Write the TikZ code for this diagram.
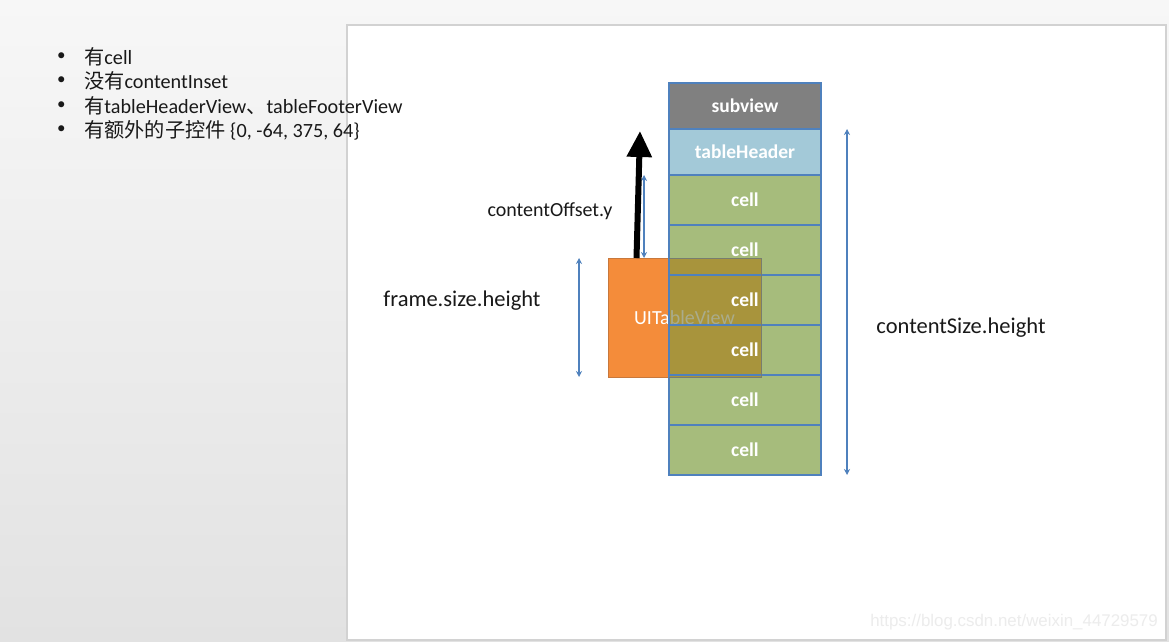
\documentclass[tikz,border=0pt]{standalone}
\usepackage{fontspec}
\setmainfont{Carlito}
\newfontfamily\cjk{Noto Sans CJK SC}
\newfontfamily\wmfont{Liberation Sans}
\usetikzlibrary{arrows.meta}
\definecolor{bgtop}{RGB}{247,247,247}
\definecolor{bgbot}{RGB}{226,226,226}
\definecolor{panelline}{RGB}{210,210,210}
\definecolor{boxline}{RGB}{79,129,189}
\definecolor{subgray}{RGB}{128,128,128}
\definecolor{headblue}{RGB}{163,201,216}
\definecolor{cellgreen}{RGB}{166,188,124}
\definecolor{tvorange}{RGB}{244,140,58}
\definecolor{tvline}{RGB}{200,120,60}
\definecolor{mixolive}{RGB}{168,148,60}
\definecolor{mixline}{RGB}{120,125,110}
\definecolor{faint}{RGB}{170,172,140}
\definecolor{txt}{RGB}{25,25,25}
\definecolor{wm}{RGB}{236,236,236}
\tikzset{
  stackbox/.style={draw=boxline, line width=1.5pt, minimum width=152pt, inner sep=0pt, outer sep=0pt,
    text=white, font=\fontsize{19.5}{22}\selectfont\bfseries},
  cellbox/.style={stackbox, minimum height=50pt},
  hdrbox/.style={stackbox, minimum height=46pt},
  lbl/.style={text=txt, inner sep=0pt, font=\fontsize{22.5}{26}\selectfont},
  bul/.style={text=txt, inner sep=0pt, anchor=west, font=\fontsize{20.2}{24}\selectfont},
  dim/.style={draw=boxline, line width=1.6pt, {Stealth[length=6pt,width=6pt]}-{Stealth[length=6pt,width=6pt]}},
}
\begin{document}
\begin{tikzpicture}[x=1pt,y=-1pt]
\useasboundingbox (0,0) rectangle (1169,642);
% background
\shade[top color=bgtop, bottom color=bgbot] (0,0) rectangle (1169,642);
\fill[white] (347,25) rectangle (1166,640);
\draw[panelline, line width=1.5pt] (347,25) rectangle (1166,640);
% bullet list
\foreach \y/\n in {57/1,81/2,106/3,130/4}{\node[bul, font=\fontsize{17}{20}\selectfont] (d\n) at (57,\y) {•};}
\node[bul] (b1) at (84,57) {{\cjk 有}cell};
\node[bul] (b2) at (84,81) {{\cjk 没有}contentInset};
\node[bul] (b3) at (84,106) {{\cjk 有}tableHeaderView{\cjk 、}tableFooterView};
\node[bul] (b4) at (84,130) {{\cjk 有额外的子控件} \{0, -64, 375, 64\}};
% UITableView frame
\node[fill=tvorange, draw=tvline, line width=0.6pt, minimum width=153pt, minimum height=119pt,
  inner sep=0pt, outer sep=0pt, text=white, font=\fontsize{20}{24}\selectfont] (tv) at (684.5,317.5) {UITableView};
% stack
\node[hdrbox, fill=subgray] (sub) at (745,106) {subview};
\node[hdrbox, fill=headblue] (hdr) at (745,152) {tableHeader};
\fill[cellgreen] (669,175) rectangle (821,475);
\fill[mixolive] (669,258) rectangle (761,377);
\begin{scope}
\clip (669,258) rectangle (761,377);
\node[text=faint, inner sep=0pt, font=\fontsize{20}{24}\selectfont] (tvghost) at (tv.center) {UITableView};
\end{scope}
\node[cellbox] (c1) at (745,200) {cell};
\node[cellbox] (c2) at (745,250) {cell};
\node[cellbox] (c3) at (745,300) {cell};
\node[cellbox] (c4) at (745,350) {cell};
\node[cellbox] (c5) at (745,400) {cell};
\node[cellbox] (c6) at (745,450) {cell};
\draw[mixline, line width=0.8pt] (669,258) -- (tv.north east) -- (tv.south east) -- (669,377);
% dimension arrows
\draw[dim] ([xshift=-25pt]c1.north west) -- ([xshift=36pt]tv.north west);
\coordinate (offS) at (636.5,258);
\coordinate (offE) at (640,131);
\draw[line width=6pt, -{Triangle[length=26pt,width=24pt]}] (offS) -- (offE);
\draw[dim] ([xshift=-29pt]tv.north west) -- ([xshift=-29pt]tv.south west);
\draw[dim] ([xshift=26pt]sub.south east) -- ([xshift=26pt]c6.south east);
% labels
\node[lbl, font=\fontsize{20}{24}\selectfont] (loff) at (550,211) {contentOffset.y};
\node[lbl] (lframe) at (462,301) {frame.size.height};
\node[lbl] (lsize) at (961,328) {contentSize.height};
\node[text=wm, inner sep=0pt, anchor=east, font=\wmfont\fontsize{16.9}{20}\selectfont] (wmk) at (1158,622) {https://blog.csdn.net/weixin\_44729579};
\end{tikzpicture}
\end{document}
